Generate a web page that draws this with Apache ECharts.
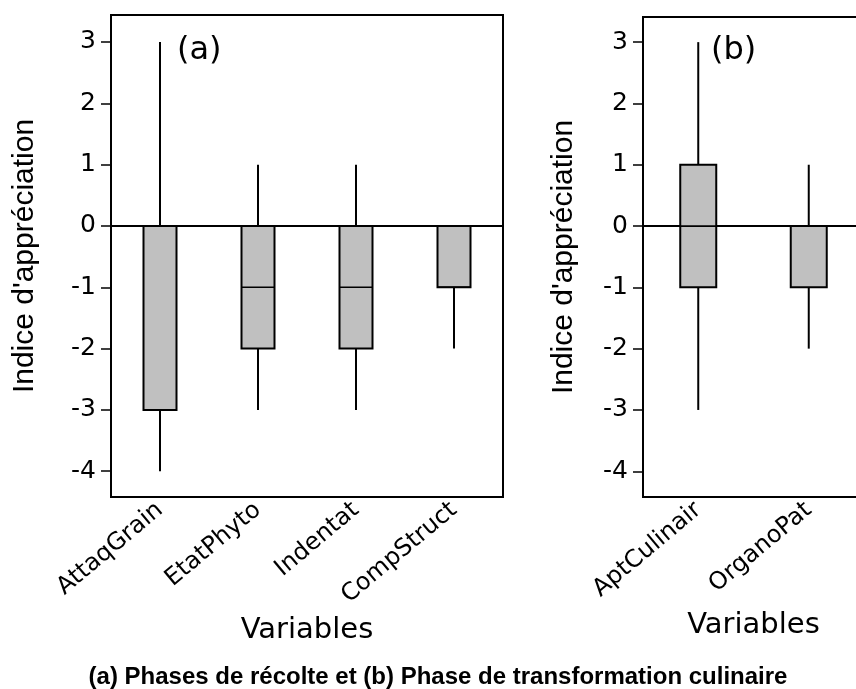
<!DOCTYPE html>
<html>
<head>
<meta charset="utf-8">
<script src="https://cdn.jsdelivr.net/npm/echarts@6/dist/echarts.min.js"></script>
<style>
  html, body { margin: 0; padding: 0; background: #fff; }
  #chart { width: 856px; height: 689px; }
</style>
</head>
<body>
<div id="chart"></div>
<script>
// (a) phases de récolte
var catsA = ['AttaqGrain', 'EtatPhyto', 'Indentat', 'CompStruct']
// [min, q1, mediane, q3, max]
var boxA = [
  [-4, -3, 0, 0, 3],
  [-3, -2, -1, 0, 1],
  [-3, -2, -1, 0, 1],
  [-2, -1, -1, 0, 0]
]
// (b) phase de transformation culinaire
var catsB = ['AptCulinair', 'OrganoPat']
var boxB = [
  [-3, -1, 0, 1, 3],
  [-2, -1, 0, 0, 1]
]
var yTicks = [-4, -3, -2, -1, 0, 1, 2, 3]

var txtFont = 'DejaVu Sans, Verdana, sans-serif'

function toData(list) {
  var out = []
  for (var i = 0; i < list.length; i++) {
    out.push([i].concat(list[i]))
  }
  return out
}

function makeRender(bw) {
  return function(params, api) {
    var x = api.value(0)
    var pMin = api.coord([x, api.value(1)])
    var pQ1 = api.coord([x, api.value(2)])
    var pMed = api.coord([x, api.value(3)])
    var pQ3 = api.coord([x, api.value(4)])
    var pMax = api.coord([x, api.value(5)])
    var cx = pMin[0]
    var half = bw / 2
    var line = { stroke: '#000', lineWidth: 2 }
    var kids = []
    if (pMax[1] < pQ3[1]) {
      kids.push({ type: 'line', shape: { x1: cx, y1: pMax[1], x2: cx, y2: pQ3[1] }, style: line })
    }
    if (pMin[1] > pQ1[1]) {
      kids.push({ type: 'line', shape: { x1: cx, y1: pQ1[1], x2: cx, y2: pMin[1] }, style: line })
    }
    kids.push({
      type: 'rect',
      shape: { x: cx - half, y: pQ3[1], width: bw, height: pQ1[1] - pQ3[1] },
      style: { fill: '#c0c0c0', stroke: '#000', lineWidth: 2 }
    })
    kids.push({ type: 'line', shape: { x1: cx - half, y1: pMed[1], x2: cx + half, y2: pMed[1] }, style: { stroke: '#000', lineWidth: 1.5 } })
    return { type: 'group', children: kids }
  }
}

function yAx(idx, max) {
  return {
    type: 'value',
    gridIndex: idx,
    min: -4.42,
    max: max,
    name: "Indice d'appréciation",
    nameLocation: 'middle',
    nameGap: idx === 0 ? 71 : 64,
    nameTextStyle: { fontFamily: 'Liberation Sans, Arial, sans-serif', fontSize: 30, color: '#000' },
    axisLine: { show: true, lineStyle: { color: '#000', width: 2 } },
    axisTick: { show: true, inside: false, length: 10, customValues: yTicks, lineStyle: { color: '#000', width: 1.5 } },
    axisLabel: { customValues: yTicks, fontFamily: txtFont, fontSize: 25, color: '#000', margin: 15 },
    splitLine: { show: false }
  }
}

function xAx(idx, cats) {
  return {
    type: 'category',
    gridIndex: idx,
    data: cats,
    name: 'Variables',
    nameLocation: 'middle',
    nameGap: idx === 0 ? 119 : 114,
    nameTextStyle: { fontFamily: txtFont, fontSize: 29, color: '#000' },
    axisLine: { show: true, lineStyle: { color: '#000', width: 2 } },
    axisTick: { show: true, inside: false, alignWithLabel: true, length: 8, lineStyle: { color: '#000', width: 1.5 } },
    axisLabel: { rotate: 40, fontFamily: txtFont, fontSize: 24, color: '#000', margin: 10, interval: 0 },
    splitLine: { show: false }
  }
}

var zeroLine = {
  silent: true,
  symbol: 'none',
  label: { show: false },
  lineStyle: { color: '#000', width: 1, type: 'solid' },
  data: [{ yAxis: 0 }]
}

var chart = echarts.init(document.getElementById('chart'))
chart.setOption({
  backgroundColor: '#fff',
  animation: false,
  title: [
    { text: '(a)', left: 172, top: 30, textStyle: { fontFamily: txtFont, fontSize: 32, fontWeight: 'normal', color: '#000' } },
    { text: '(b)', left: 706, top: 30, textStyle: { fontFamily: txtFont, fontSize: 32, fontWeight: 'normal', color: '#000' } },
    {
      text: '(a) Phases de récolte et (b) Phase de transformation culinaire',
      left: 433, textAlign: 'center', top: 660,
      textStyle: { fontFamily: 'Liberation Sans Narrow, Arial Narrow, Liberation Sans, sans-serif', fontSize: 24, fontWeight: 'bold', color: '#000' }
    }
  ],
  grid: [
    { left: 111, top: 15, width: 392, height: 482, outerBoundsMode: 'none', containLabel: false, show: true, borderColor: '#000', borderWidth: 2, backgroundColor: 'transparent' },
    { left: 643, top: 17, width: 221, height: 480, outerBoundsMode: 'none', containLabel: false, show: true, borderColor: '#000', borderWidth: 2, backgroundColor: 'transparent' }
  ],
  xAxis: [xAx(0, catsA), xAx(1, catsB)],
  yAxis: [yAx(0, 3.44), yAx(1, 3.41)],
  series: [
    {
      type: 'custom',
      xAxisIndex: 0,
      yAxisIndex: 0,
      renderItem: makeRender(33),
      data: toData(boxA),
      markLine: zeroLine,
      z: 3
    },
    {
      type: 'custom',
      xAxisIndex: 1,
      yAxisIndex: 1,
      renderItem: makeRender(36),
      data: toData(boxB),
      markLine: zeroLine,
      z: 3
    }
  ]
})
</script>
</body>
</html>
